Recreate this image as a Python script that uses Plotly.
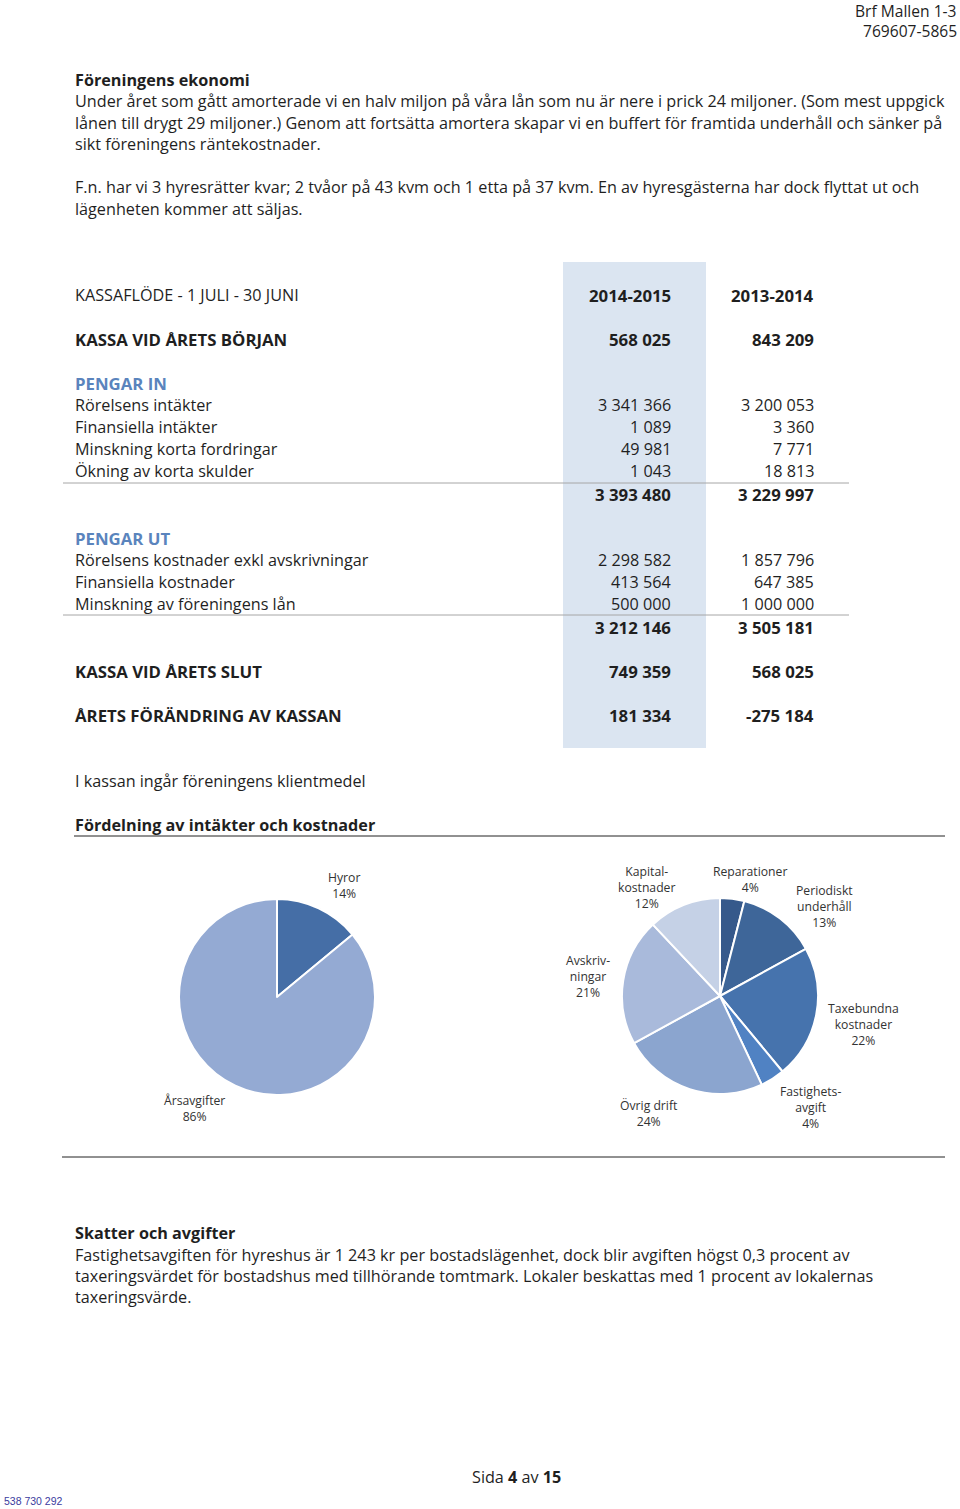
import plotly.graph_objects as go

FONT = "Open Sans"
BODY = 16.2
BOLD = 16.8
INK = "#1f1f1f"
BLUE_HEAD = "#5a84bd"

# --- data ---------------------------------------------------------------
header_lines = ["Brf Mallen 1-3", "769607-5865"]

intro_title = "Föreningens ekonomi"
intro_lines = [
    "Under året som gått amorterade vi en halv miljon på våra lån som nu är nere i prick 24 miljoner. (Som mest uppgick",
    "lånen till drygt 29 miljoner.) Genom att fortsätta amortera skapar vi en buffert för framtida underhåll och sänker på",
    "sikt föreningens räntekostnader.",
    "",
    "F.n. har vi 3 hyresrätter kvar; 2 tvåor på 43 kvm och 1 etta på 37 kvm. En av hyresgästerna har dock flyttat ut och",
    "lägenheten kommer att säljas.",
]

table_title = "KASSAFLÖDE - 1 JULI - 30 JUNI"
years = ["2014-2015", "2013-2014"]

opening_label = "KASSA VID ÅRETS BÖRJAN"
opening = ["568 025", "843 209"]

in_title = "PENGAR IN"
in_labels = ["Rörelsens intäkter", "Finansiella intäkter",
             "Minskning korta fordringar", "Ökning av korta skulder"]
in_cur = ["3 341 366", "1 089", "49 981", "1 043"]
in_prev = ["3 200 053", "3 360", "7 771", "18 813"]
in_total = ["3 393 480", "3 229 997"]

out_title = "PENGAR UT"
out_labels = ["Rörelsens kostnader exkl avskrivningar", "Finansiella kostnader",
              "Minskning av föreningens lån"]
out_cur = ["2 298 582", "413 564", "500 000"]
out_prev = ["1 857 796", "647 385", "1 000 000"]
out_total = ["3 212 146", "3 505 181"]

closing_label = "KASSA VID ÅRETS SLUT"
closing = ["749 359", "568 025"]

change_label = "ÅRETS FÖRÄNDRING AV KASSAN"
change = ["181 334", "-275 184"]

note = "I kassan ingår föreningens klientmedel"
pie_title = "Fördelning av intäkter och kostnader"

income_labels = ["Hyror", "Årsavgifter"]
income_text = ["Hyror", "Årsavgifter"]
income_pct = [14, 86]
income_colors = ["#456ea6", "#94aad3"]

cost_labels = ["Reparationer", "Periodiskt underhåll", "Taxebundna kostnader",
               "Fastighetsavgift", "Övrig drift", "Avskrivningar", "Kapitalkostnader"]
cost_text = ["Reparationer", "Periodiskt<br>underhåll", "Taxebundna<br>kostnader",
             "Fastighets-<br>avgift", "Övrig drift", "Avskriv-<br>ningar", "Kapital-<br>kostnader"]
cost_pct = [4, 13, 22, 4, 24, 21, 12]
cost_colors = ["#36598b", "#3e6699", "#4673ad", "#5082c3", "#8ba5cf", "#a9badb", "#c5d1e6"]

tax_title = "Skatter och avgifter"
tax_lines = [
    "Fastighetsavgiften för hyreshus är 1 243 kr per bostadslägenhet, dock blir avgiften högst 0,3 procent av",
    "taxeringsvärdet för bostadshus med tillhörande tomtmark. Lokaler beskattas med 1 procent av lokalernas",
    "taxeringsvärde.",
]

footer = "Sida <b>4</b> av <b>15</b>"
doc_id = "538 730 292"

# --- layout helpers -------------------------------------------------------
W, H = 960, 1509
LEFT = 73
COL1, COL2 = 673, 816

fig = go.Figure()
ann = []
shapes = []


def text(x, y, s, size=BODY, bold=False, color=INK, anchor="left", family=FONT):
    if bold:
        s = "<b>" + s + "</b>"
    ann.append(dict(x=x, y=y, xref="x", yref="y", text=s, showarrow=False,
                    xanchor=anchor, yanchor="middle", align="center" if anchor == "center" else anchor,
                    font=dict(family=family, size=size, color=color)))


def hline(y, x0, x1, color, width=1):
    shapes.append(dict(type="line", xref="x", yref="y", x0=x0, x1=x1, y0=y, y1=y,
                       line=dict(color=color, width=width)))


def row(y, label, a, b, bold=False, color=INK):
    size = BOLD if bold else BODY
    if label:
        text(LEFT, y, label, size=size, bold=bold, color=color)
    if a:
        text(COL1, y, a, size=size, bold=bold, anchor="right")
    if b:
        text(COL2, y, b, size=size, bold=bold, anchor="right")


# header
text(959, 11, header_lines[0], size=15.6, anchor="right")
text(959, 31, header_lines[1], size=15.6, anchor="right")

# intro
text(LEFT, 80, intro_title, bold=True)
y = 101
for line in intro_lines:
    if line:
        text(LEFT, y, line)
    y += 21.5

# shaded column
shapes.append(dict(type="rect", xref="x", yref="y", x0=563, x1=706, y0=262, y1=748,
                   fillcolor="#dbe5f1", line=dict(width=0), layer="below"))

# table
text(LEFT, 295, table_title)
row(295, "", years[0], years[1], bold=True)
row(339, opening_label, opening[0], opening[1], bold=True)

row(383, in_title, "", "", bold=True, color=BLUE_HEAD)
y = 405
for lab, a, b in zip(in_labels, in_cur, in_prev):
    row(y, lab, a, b)
    y += 22
hline(483, 63, 849, "#a6a6a6")
row(494, "", in_total[0], in_total[1], bold=True)

row(538, out_title, "", "", bold=True, color=BLUE_HEAD)
y = 560
for lab, a, b in zip(out_labels, out_cur, out_prev):
    row(y, lab, a, b)
    y += 22
hline(615, 63, 849, "#a6a6a6")
row(627, "", out_total[0], out_total[1], bold=True)

row(671, closing_label, closing[0], closing[1], bold=True)
row(715, change_label, change[0], change[1], bold=True)

text(LEFT, 781, note)
text(LEFT, 825, pie_title, bold=True)
hline(836, 74, 945, "#222222")

# pies: (centre x, centre y, radius) in page pixels
pie_geom = [(277, 997, 98), (720, 996, 98)]


def domain(cx, cy, r):
    return dict(x=[(cx - r) / W, (cx + r) / W], y=[1 - (cy + r) / H, 1 - (cy - r) / H])


for (labels, pct, colors), geom in zip(
        [(income_labels, income_pct, income_colors), (cost_labels, cost_pct, cost_colors)], pie_geom):
    fig.add_trace(go.Pie(labels=labels, values=pct, sort=False, direction="clockwise",
                         rotation=0, textinfo="none", hoverinfo="label+percent",
                         marker=dict(colors=colors, line=dict(color="white", width=2)),
                         domain=domain(*geom), showlegend=False))

income_pos = [(344, 885), (194, 1108)]
cost_pos = [(750, 879), (824, 906), (863, 1024), (810, 1107), (649, 1113), (588, 976), (646, 887)]
for lab, p, pos in zip(income_text, income_pct, income_pos):
    text(pos[0], pos[1], f"{lab}<br>{p}%", size=12.2, color="#333333", anchor="center")
for lab, p, pos in zip(cost_text, cost_pct, cost_pos):
    text(pos[0], pos[1], f"{lab}<br>{p}%", size=12.2, color="#333333", anchor="center")

hline(1157, 62, 945, "#222222")

# taxes
text(LEFT, 1233, tax_title, bold=True)
y = 1255
for line in tax_lines:
    text(LEFT, y, line)
    y += 21

text(516, 1477, footer, anchor="center")
text(2, 1501, doc_id, size=10.5, color="#3b3b9e", family="Liberation Sans")

fig.update_layout(
    width=W, height=H, autosize=False,
    margin=dict(l=0, r=0, t=0, b=0),
    paper_bgcolor="white", plot_bgcolor="white",
    xaxis=dict(range=[0, W], visible=False, fixedrange=True),
    yaxis=dict(range=[H, 0], visible=False, fixedrange=True),
    annotations=ann, shapes=shapes,
)

# page sized exactly to the window: drop the browser's default body margin
fig.write_html("out.html", config={"displayModeBar": False},
               post_script="document.body.style.margin='0';document.body.style.overflow='hidden';")
